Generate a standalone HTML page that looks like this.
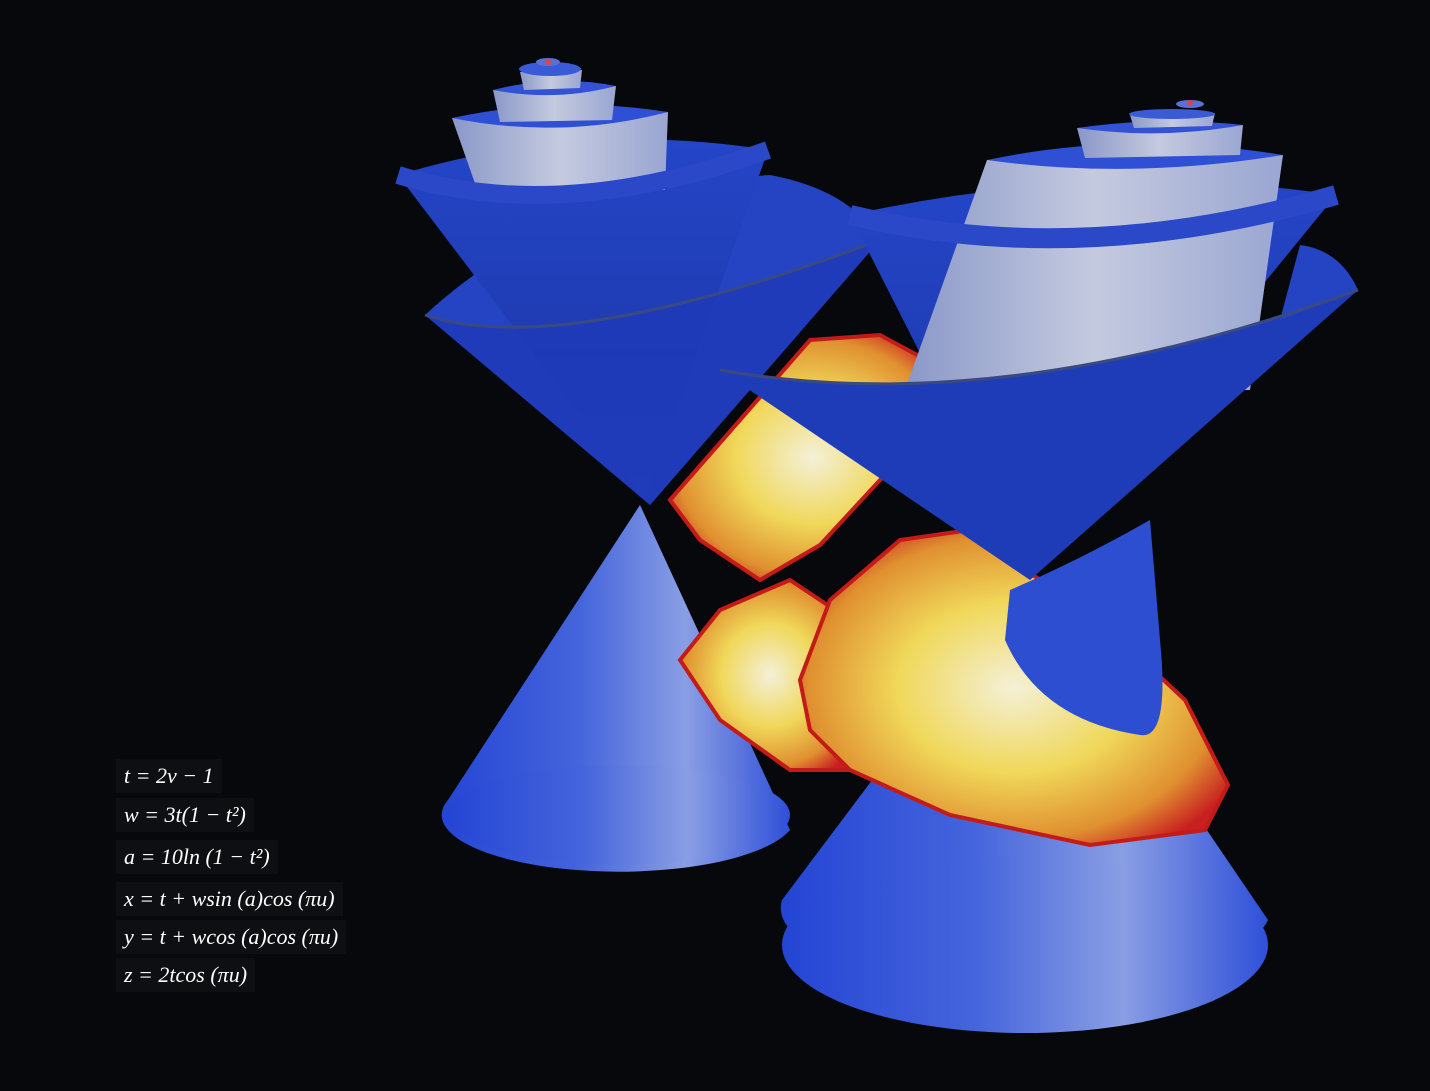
<!DOCTYPE html>
<html><head><meta charset="utf-8"><style>
html,body{margin:0;padding:0;background:#07080b;width:1430px;height:1091px;overflow:hidden}
svg{position:absolute;left:0;top:0}
.eq{position:absolute;left:116px;font-family:"Liberation Serif",serif;font-style:italic;font-size:22px;color:#fff;background:#0e0f12;padding:2px 8px;line-height:30px}
</style></head><body>
<svg width="1430" height="1091" viewBox="0 0 1430 1091">
<defs>
<linearGradient id="blue" x1="0" x2="1" y1="0" y2="0">
<stop offset="0" stop-color="#2445d4"/><stop offset="0.4" stop-color="#4565dc"/><stop offset="0.7" stop-color="#8a9ee4"/><stop offset="1" stop-color="#2f50d8"/></linearGradient>
<linearGradient id="funnel" x1="0" x2="0" y1="0" y2="1">
<stop offset="0" stop-color="#2445c8"/><stop offset="0.6" stop-color="#1f3bb0"/><stop offset="1" stop-color="#2c4bc4"/></linearGradient>
<linearGradient id="white" x1="0" x2="1" y1="0" y2="0">
<stop offset="0" stop-color="#8a98c8"/><stop offset="0.5" stop-color="#c4cadf"/><stop offset="1" stop-color="#9aa6d2"/></linearGradient>
<radialGradient id="yellow" cx="0.5" cy="0.5" r="0.6">
<stop offset="0" stop-color="#f4f0d8"/><stop offset="0.45" stop-color="#f0d85a"/><stop offset="0.8" stop-color="#e09030"/><stop offset="1" stop-color="#c82020"/></radialGradient>
</defs>
<!-- left lower cone -->
<g>
<path d="M640 505 L448 800 A172 55 0 0 0 790 830 Z" fill="url(#blue)"/>
<ellipse cx="619" cy="815" rx="171" ry="50" fill="url(#blue)"/>
</g>
<!-- right lower cone -->
<g>
<path d="M1030 570 L782 900 A245 80 0 0 0 1268 920 Z" fill="url(#blue)"/>
<ellipse cx="1025" cy="945" rx="243" ry="88" fill="url(#blue)"/>
</g>
<!-- left yellow band -->
<path d="M670 500 L740 420 L810 340 L880 335 L945 370 L955 410 L880 480 L820 545 L760 580 L700 540 Z" fill="url(#yellow)" stroke="#c41a1a" stroke-width="4"/>
<path d="M680 660 L720 610 L790 580 L850 620 L860 690 L850 770 L790 770 L720 720 Z" fill="url(#yellow)" stroke="#c41a1a" stroke-width="4"/>
<!-- left funnel B (back) -->
<path d="M425 315 L650 505 L880 240 Q850 190 770 175 Q560 190 425 315 Z" fill="#2444c4"/>
<!-- left funnel A -->
<g>
<path d="M398 175 L645 500 L768 150 Q580 120 398 175 Z" fill="url(#funnel)"/>
<path d="M452 118 L478 192 L665 190 L668 112 Z" fill="url(#white)"/>
<path d="M398 175 Q560 225 768 150" fill="none" stroke="#2a48c8" stroke-width="18"/>
<path d="M452 118 Q560 140 668 112 Q560 95 452 118 Z" fill="#2f50d4"/>
<path d="M493 90 L500 122 L612 120 L616 86 Z" fill="url(#white)"/>
<path d="M493 90 Q555 102 616 86 Q555 74 493 90 Z" fill="#3352d6"/>
<path d="M520 72 L524 90 L580 88 L582 70 Z" fill="url(#white)"/>
<ellipse cx="550" cy="69" rx="31" ry="7" fill="#3a5ad8"/>
<ellipse cx="548" cy="62" rx="12" ry="4" fill="#5a70d8"/>
<circle cx="548" cy="62" r="3" fill="#d44"/>
</g>
<!-- left funnel B front translucent -->
<path d="M425 315 Q560 360 880 240 L650 505 Z" fill="#1e3ab8" opacity="0.85"/>
<path d="M425 315 Q560 360 880 240" fill="none" stroke="#3a4a80" stroke-width="3"/>
<!-- right yellow band -->
<path d="M800 680 L830 600 L900 540 L970 530 L1040 580 L1110 630 L1185 700 L1228 785 L1205 830 L1090 845 L950 815 L850 770 L810 730 Z" fill="url(#yellow)" stroke="#c41a1a" stroke-width="4"/>
<path d="M1010 590 Q1080 560 1150 520 L1160 640 Q1170 740 1140 735 Q1040 720 1005 640 Z" fill="#2e4ed2"/>
<!-- right funnels -->
<g>
<path d="M850 215 L1030 570 L1336 195 Q1100 160 850 215 Z" fill="url(#funnel)"/>
<path d="M987 160 L1283 155 L1250 390 L905 390 Z" fill="url(#white)"/>
<path d="M850 215 Q1080 270 1336 195" fill="none" stroke="#2a48c8" stroke-width="20"/>
<path d="M987 160 Q1130 180 1283 155 Q1130 130 987 160 Z" fill="#2f50d4"/>
<path d="M1077 128 L1085 158 L1240 155 L1243 125 Z" fill="url(#white)"/>
<path d="M1077 128 Q1160 140 1243 125 Q1160 116 1077 128 Z" fill="#3352d6"/>
<path d="M1130 115 L1134 128 L1212 126 L1215 113 Z" fill="url(#white)"/>
<ellipse cx="1172" cy="114" rx="43" ry="5" fill="#3a5ad8"/>
<ellipse cx="1190" cy="104" rx="14" ry="4" fill="#5a70d8"/>
<circle cx="1190" cy="103" r="3" fill="#d44"/>
<path d="M720 370 Q1000 420 1358 290 L1030 580 Z" fill="#1f3cb8"/>
<path d="M1358 290 Q1340 250 1300 245 L1280 320 Z" fill="#2444c4"/>
<path d="M720 370 Q1000 420 1358 290" fill="none" stroke="#3a4a80" stroke-width="3"/>
</g>
</svg>
<div class="eq" style="top:759px">t = 2v − 1</div>
<div class="eq" style="top:798px">w = 3t(1 − t²)</div>
<div class="eq" style="top:840px">a = 10ln (1 − t²)</div>
<div class="eq" style="top:882px">x = t + wsin (a)cos (πu)</div>
<div class="eq" style="top:920px">y = t + wcos (a)cos (πu)</div>
<div class="eq" style="top:958px">z = 2tcos (πu)</div>
</body></html>
